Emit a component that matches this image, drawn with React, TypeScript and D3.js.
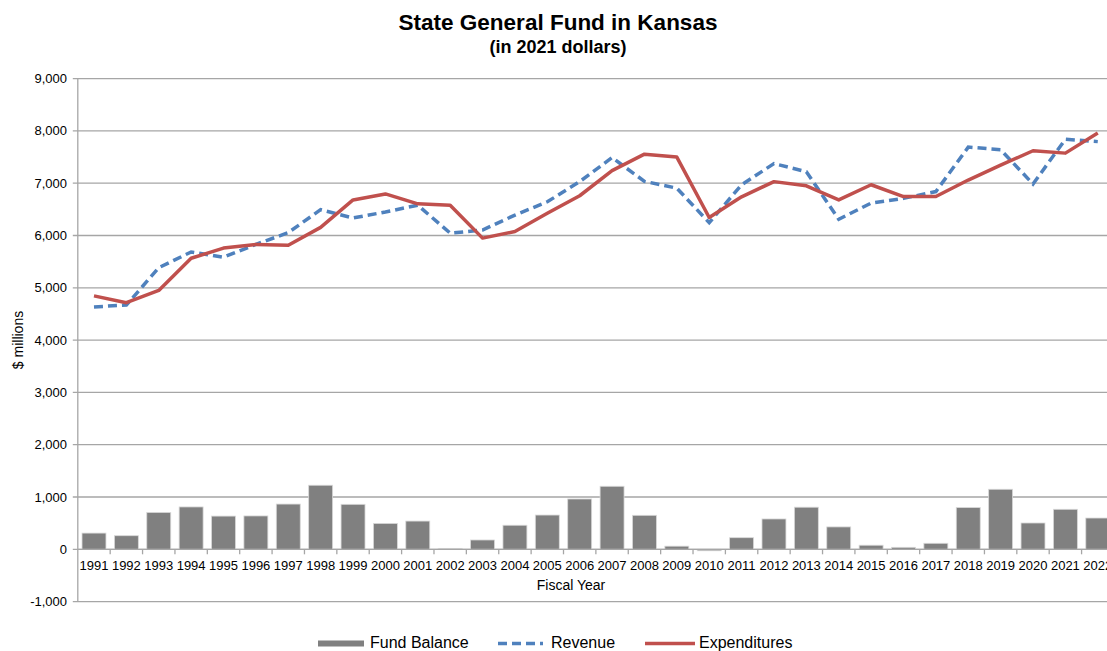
import React, { useRef, useEffect } from 'react';
import * as d3 from 'd3';

// Fiscal years on the x axis
const years: string[] = [
  '1991', '1992', '1993', '1994', '1995', '1996', '1997', '1998', '1999', '2000',
  '2001', '2002', '2003', '2004', '2005', '2006', '2007', '2008', '2009', '2010',
  '2011', '2012', '2013', '2014', '2015', '2016', '2017', '2018', '2019', '2020',
  '2021', '2022',
];

// $ millions, 2021 dollars
const fundBalance: number[] = [
  310, 260, 705, 810, 635, 638, 865, 1225, 860, 495,
  540, 18, 178, 460, 655, 962, 1205, 650, 60, -28,
  222, 580, 805, 428, 78, 38, 115, 798, 1148, 503,
  765, 598,
];

const revenue: number[] = [
  4635, 4670, 5385, 5685, 5585, 5830, 6055, 6495, 6335, 6450,
  6580, 6045, 6105, 6390, 6645, 7030, 7490, 7035, 6905, 6245,
  6970, 7375, 7220, 6310, 6620, 6710, 6840, 7690, 7640, 6985,
  7840, 7795,
];

const expenditures: number[] = [
  4845, 4715, 4950, 5565, 5760, 5830, 5815, 6155, 6680, 6795,
  6605, 6580, 5950, 6075, 6425, 6760, 7240, 7555, 7500, 6345,
  6740, 7030, 6950, 6680, 6970, 6745, 6745, 7060, 7345, 7620,
  7575, 7960,
];

const yTicks: number[] = [-1000, 0, 1000, 2000, 3000, 4000, 5000, 6000, 7000, 8000, 9000];

const FONT = 'Arial, "Liberation Sans", Helvetica, sans-serif';

const App = () => {
  const ref = useRef<HTMLDivElement>(null);

  useEffect(() => {
    const width = 1107;
    const height = 651;
    const left = 77.8;
    const step = 32.38;
    const right = left + years.length * step; // runs past the frame, as in the original

    d3.select(ref.current).selectAll('svg').remove();

    const svg = d3.select(ref.current)
      .append('svg')
      .attr('width', width)
      .attr('height', height)
      .style('position', 'absolute')
      .style('left', '0px')
      .style('top', '0px')
      .style('font-family', FONT);

    const x = d3.scaleBand<string>()
      .domain(years)
      .range([left, right])
      .paddingInner(0.26)
      .paddingOuter(0.13);

    const y = d3.scaleLinear()
      .domain([-1000, 9000])
      .range([601.6, 78.6]);

    const cx = (i: number) => (x(years[i]) as number) + x.bandwidth() / 2;
    const fmt = (d: number) => d3.format(',')(d).replace('\u2212', '-');

    // Titles
    svg.append('text')
      .attr('x', 558).attr('y', 30)
      .attr('text-anchor', 'middle')
      .style('font-size', '22.5px').style('font-weight', 'bold')
      .text('State General Fund in Kansas');
    svg.append('text')
      .attr('x', 558).attr('y', 53)
      .attr('text-anchor', 'middle')
      .style('font-size', '18px').style('font-weight', 'bold')
      .text('(in 2021 dollars)');

    // Gridlines
    svg.append('g')
      .selectAll('line')
      .data(yTicks)
      .enter().append('line')
      .attr('x1', left - 5).attr('x2', width)
      .attr('y1', (d) => y(d)).attr('y2', (d) => y(d))
      .attr('stroke', '#a6a6a6')
      .attr('stroke-width', 1.3);

    // Y tick labels
    svg.append('g')
      .selectAll('text')
      .data(yTicks)
      .enter().append('text')
      .attr('x', 67).attr('y', (d) => y(d))
      .attr('dy', '0.35em')
      .attr('text-anchor', 'end')
      .style('font-size', '13px')
      .text((d) => fmt(d));

    // Fund balance bars
    svg.append('g')
      .selectAll('rect')
      .data(fundBalance)
      .enter().append('rect')
      .attr('x', (d, i) => x(years[i]) as number)
      .attr('width', x.bandwidth())
      .attr('y', (d) => y(Math.max(0, d)))
      .attr('height', (d) => Math.abs(y(d) - y(0)))
      .attr('fill', '#808080')
      .attr('stroke', '#d9d9d9')
      .attr('stroke-width', 0.8);

    // Axes
    svg.append('line')
      .attr('x1', left).attr('x2', left)
      .attr('y1', y(9000)).attr('y2', y(-1000))
      .attr('stroke', '#a6a6a6').attr('stroke-width', 1.3);
    svg.append('line')
      .attr('x1', left).attr('x2', width)
      .attr('y1', y(0)).attr('y2', y(0))
      .attr('stroke', '#a6a6a6').attr('stroke-width', 1.3);
    svg.append('g')
      .selectAll('line')
      .data(years.slice(1))
      .enter().append('line')
      .attr('x1', (d) => (x(d) as number) - x.step() * x.paddingInner() / 2)
      .attr('x2', (d) => (x(d) as number) - x.step() * x.paddingInner() / 2)
      .attr('y1', y(0)).attr('y2', y(0) + 5)
      .attr('stroke', '#a6a6a6').attr('stroke-width', 1.3);

    // Year labels
    svg.append('g')
      .selectAll('text')
      .data(years)
      .enter().append('text')
      .attr('x', (d, i) => cx(i))
      .attr('y', 570)
      .attr('text-anchor', 'middle')
      .style('font-size', '13px')
      .text((d) => d);

    // Axis titles
    svg.append('text')
      .attr('x', 571).attr('y', 590)
      .attr('text-anchor', 'middle')
      .style('font-size', '14px')
      .text('Fiscal Year');
    svg.append('text')
      .attr('transform', 'translate(23, 340) rotate(-90)')
      .attr('text-anchor', 'middle')
      .style('font-size', '14px')
      .text('$ millions');

    // Lines
    const line = d3.line<number>()
      .x((d, i) => cx(i))
      .y((d) => y(d));

    svg.append('path')
      .datum(revenue)
      .attr('d', line)
      .attr('fill', 'none')
      .attr('stroke', '#4f81bd')
      .attr('stroke-width', 3.5)
      .attr('stroke-dasharray', '9,5');

    svg.append('path')
      .datum(expenditures)
      .attr('d', line)
      .attr('fill', 'none')
      .attr('stroke', '#c0504d')
      .attr('stroke-width', 3.5)
      .attr('stroke-linejoin', 'round');

    // Legend
    const legend = svg.append('g').style('font-size', '16px');
    legend.append('rect')
      .attr('x', 318).attr('y', 640.5).attr('width', 46).attr('height', 6)
      .attr('fill', '#808080');
    legend.append('text').attr('x', 370).attr('y', 648).text('Fund Balance');
    legend.append('line')
      .attr('x1', 498).attr('x2', 543).attr('y1', 643.5).attr('y2', 643.5)
      .attr('stroke', '#4f81bd').attr('stroke-width', 3.5)
      .attr('stroke-dasharray', '9,5');
    legend.append('text').attr('x', 551).attr('y', 648).text('Revenue');
    legend.append('line')
      .attr('x1', 645).attr('x2', 695).attr('y1', 643.5).attr('y2', 643.5)
      .attr('stroke', '#c0504d').attr('stroke-width', 3.5);
    legend.append('text').attr('x', 699).attr('y', 648).text('Expenditures');
  }, []);

  return <div ref={ref} />;
};

export default App;
